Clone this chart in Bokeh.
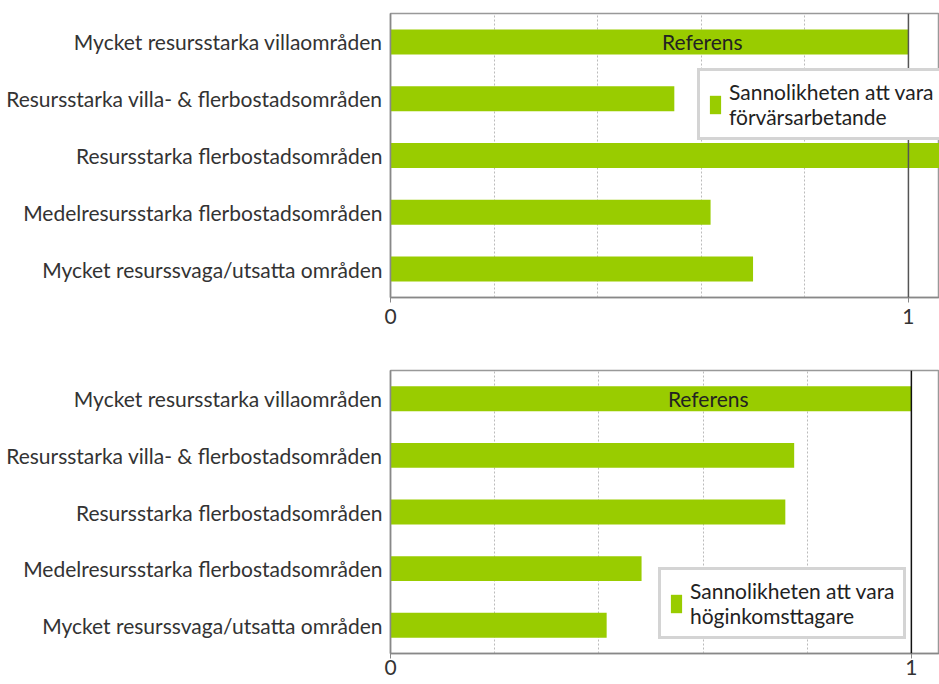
from bokeh.plotting import figure
from bokeh.models import Range1d, FixedTicker, Span, Legend, LegendItem
from bokeh.layouts import column
from bokeh.core.properties import value
from bokeh.embed import file_html
from bokeh.resources import INLINE

categories = [
    "Mycket resursstarka villaområden",
    "Resursstarka villa- & flerbostadsområden",
    "Resursstarka flerbostadsområden",
    "Medelresursstarka flerbostadsområden",
    "Mycket resurssvaga/utsatta områden",
]
employed = [1.0, 0.548, 1.09, 0.618, 0.70]
high_income = [1.0, 0.775, 0.758, 0.482, 0.415]
axis_ticks = [0, 1]
grid_ticks = [0.2, 0.4, 0.6, 0.8]
ref_text = "Referens"
legend_top = "Sannolikheten att vara\nförvärsarbetande"
legend_bottom = "Sannolikheten att vara\nhöginkomsttagare"

FONT = "Lato"
BAR = "#99cc00"


def make(values, label, x_end, frame_h, top_b, bottom_b, leg_loc, ref_x,
         ref_line_color, tick_standoff):
    p = figure(y_range=list(reversed(categories)), x_range=Range1d(0, x_end),
               frame_width=549, frame_height=frame_h,
               min_border_left=390, min_border_right=0,
               min_border_top=top_b, min_border_bottom=bottom_b,
               output_backend="svg", toolbar_location=None)
    p.background_fill_color = "white"
    p.border_fill_color = "white"
    p.outline_line_color = "#999999"
    p.outline_line_width = 1.5
    bars = p.hbar(y=categories, right=values, left=0, height=0.44,
                  fill_color=BAR, line_color=None)
    p.add_layout(Span(location=1, dimension="height", line_color=ref_line_color, line_width=1.5))
    p.text(x=[ref_x], y=[categories[0]], text=[ref_text], text_align="center",
           text_baseline="middle", text_font=value(FONT), text_font_size="21px",
           text_color="#222222")
    # axes
    p.xaxis.ticker = FixedTicker(ticks=axis_ticks)
    p.xaxis.minor_tick_line_color = None
    p.xaxis.major_tick_out = 5
    p.xaxis.major_tick_in = 0
    p.xaxis.major_tick_line_color = "#888888"
    p.xaxis.axis_line_color = "#888888"
    p.xaxis.axis_line_width = 1.5
    p.xaxis.major_label_text_font = FONT
    p.xaxis.major_label_text_font_size = "21px"
    p.xaxis.major_label_text_color = "#333333"
    p.xaxis.major_label_standoff = tick_standoff
    p.yaxis.major_tick_line_color = None
    p.yaxis.minor_tick_line_color = None
    p.yaxis.major_tick_out = 0
    p.yaxis.axis_line_color = "#888888"
    p.yaxis.axis_line_width = 1.5
    p.yaxis.major_label_text_font = FONT
    p.yaxis.major_label_text_font_size = "21px"
    p.yaxis.major_label_text_color = "#333333"
    p.yaxis.major_label_standoff = 8
    # grid
    p.ygrid.grid_line_color = None
    p.xgrid.ticker = FixedTicker(ticks=grid_ticks)
    p.xgrid.grid_line_color = "#bbbbbb"
    p.xgrid.grid_line_dash = "2 2"
    # legend
    leg = Legend(items=[LegendItem(label=label, renderers=[bars])], location=leg_loc,
                 border_line_color="#aaaaaa", border_line_width=3,
                 label_text_font=FONT, label_text_font_size="21px",
                 label_text_color="#222222", glyph_width=14, glyph_height=23,
                 padding=8, margin=0, label_standoff=7, background_fill_alpha=1)
    p.add_layout(leg)
    return p


p1 = make(employed, legend_top, 1.06, 284, 13, 40, (307, 157), 0.602, "#555555", 6)
p2 = make(high_income, legend_bottom, 1.054, 283, 33, 0, (268, 14), 0.61, "#111111", 1)

layout = column(p1, p2, spacing=0)
open("out.html", "w").write(file_html(layout, INLINE))
